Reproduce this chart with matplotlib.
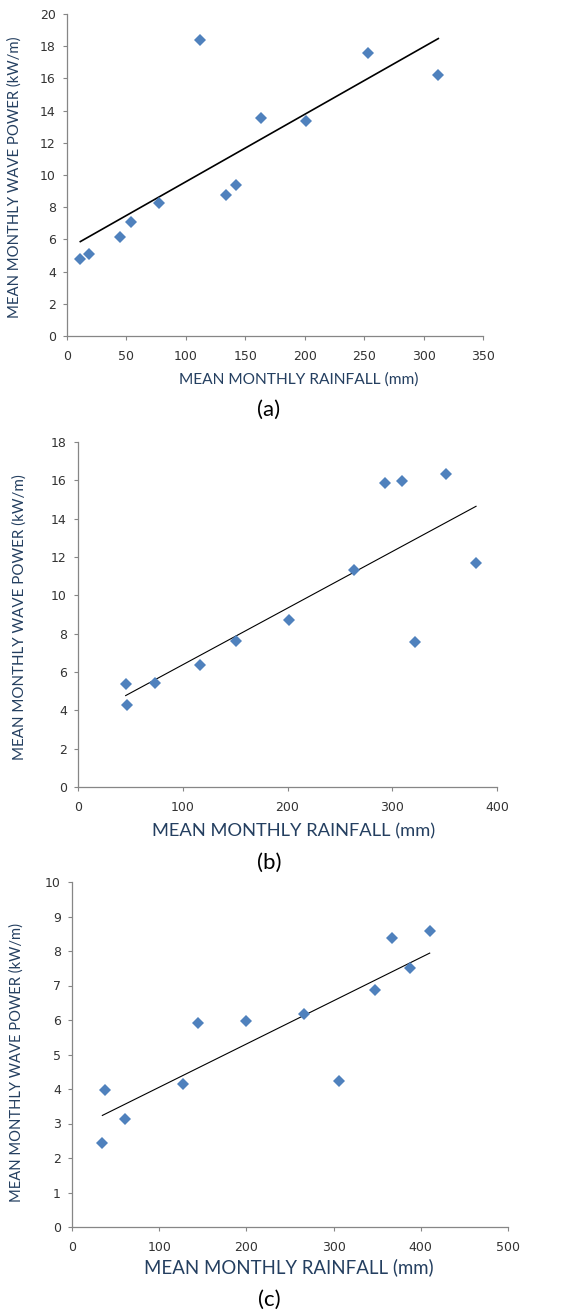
import numpy as np
import matplotlib
matplotlib.use("Agg")
import matplotlib.pyplot as plt

# (a) rainfall vs wave power
rain_a = [11.2, 18.2, 44.3, 53.6, 77.7, 111.6, 133.5, 142.2, 163.5, 200.8, 253.5, 312.4]
power_a = [4.78, 5.11, 6.15, 7.10, 8.28, 18.36, 8.74, 9.36, 13.52, 13.33, 17.56, 16.19]

# (b)
rain_b = [45.5, 46.8, 73.8, 116.8, 150.5, 201.4, 263.2, 292.8, 309.3, 321.4, 351.0, 380.0]
power_b = [5.37, 4.26, 5.44, 6.37, 7.60, 8.70, 11.32, 15.86, 15.98, 7.58, 16.33, 11.67]

# (c)
rain_c = [34.8, 37.8, 60.8, 127.3, 144.5, 199.2, 265.7, 305.8, 347.9, 367.4, 388.0, 410.2]
power_c = [2.44, 3.96, 3.14, 4.14, 5.90, 5.96, 6.16, 4.24, 6.88, 8.39, 7.50, 8.57]

W, H = 577, 1314
fig = plt.figure(figsize=(W / 100, H / 100), dpi=100)

LABEL_COLOR = "#243F60"
MARKER_COLOR = "#4F81BD"
AXIS_COLOR = "#868686"


def px_box(left, top, right, bottom):
    return [left / W, 1 - bottom / H, (right - left) / W, (bottom - top) / H]


def scatter_panel(box, x, y, xmax, xstep, ymax, ystep, lw):
    ax = fig.add_axes(px_box(*box))
    ax.plot(x, y, "D", color=MARKER_COLOR, markersize=6, markeredgewidth=0, zorder=3)
    k, b = np.polyfit(x, y, 1)
    xs = np.array([min(x), max(x)])
    ax.plot(xs, k * xs + b, color="black", lw=lw, zorder=2)
    ax.set_xlim(0, xmax)
    ax.set_ylim(0, ymax)
    ax.set_xticks(np.arange(0, xmax + 1, xstep))
    ax.set_yticks(np.arange(0, ymax + 0.01, ystep))
    for s in ["top", "right"]:
        ax.spines[s].set_visible(False)
    for s in ["left", "bottom"]:
        ax.spines[s].set_color(AXIS_COLOR)
        ax.spines[s].set_linewidth(0.9)
    ax.tick_params(direction="out", length=3, width=0.8, color=AXIS_COLOR,
                   labelsize=9, labelcolor="#333333", pad=5)
    ax.tick_params(axis="x", pad=7)
    return ax


def label_text(x, y, s, **kw):
    fig.text(x / W, 1 - y / H, s, ha="center", va="center", **kw)


scatter_panel((67, 14, 483, 336), rain_a, power_a, 350, 50, 20, 2, 1.2)
scatter_panel((78, 442, 497, 787), rain_b, power_b, 400, 100, 18, 2, 0.8)
scatter_panel((72, 882, 508, 1227), rain_c, power_c, 500, 100, 10, 1, 0.8)

xl = "MEAN MONTHLY RAINFALL (mm)"
yl = "MEAN MONTHLY WAVE POWER (kW/m)"
lab = dict(color=LABEL_COLOR, family="Lato")

label_text(298.5, 380, xl, fontsize=11.2, **lab)
label_text(294, 831, xl, fontsize=13.2, **lab)
label_text(289, 1267, xl, fontsize=13.4, **lab)

label_text(15, 177, yl, fontsize=10.7, rotation=90, **lab)
label_text(20, 617, yl, fontsize=10.9, rotation=90, **lab)
label_text(17, 1062, yl, fontsize=10.6, rotation=90, **lab)

cap = dict(fontsize=16, color="black", family="Lato")
label_text(269, 410, "(a)", **cap)
label_text(269, 863, "(b)", **cap)
label_text(269, 1300, "(c)", **cap)

fig.savefig("out.png", dpi=100, facecolor="white")
